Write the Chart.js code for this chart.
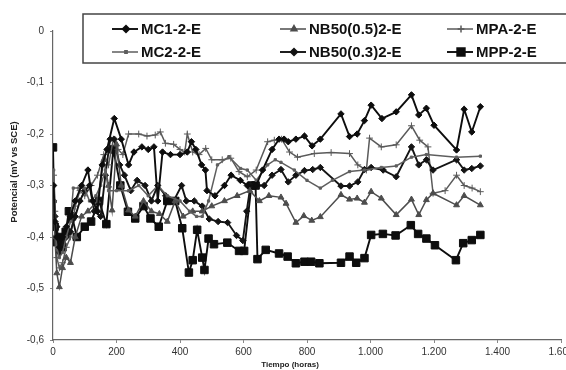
<!DOCTYPE html>
<html>
<head>
<meta charset="utf-8">
<script src="https://cdn.jsdelivr.net/npm/chart.js@4.4.1/dist/chart.umd.min.js"></script>
<style>
  html, body { margin: 0; padding: 0; overflow: hidden; background: #fff; }
  #wrap { width: 600px; height: 370px; }
</style>
</head>
<body>
<div id="wrap"><canvas id="myChart" width="600" height="370"></canvas></div>
<script>
// series labels, in legend order (column by column)
const seriesNames = ['MC1-2-E', 'MC2-2-E', 'NB50(0.5)2-E', 'NB50(0.3)2-E', 'MPA-2-E', 'MPP-2-E'];

// axis ticks
const hourTicks = [0, 200, 400, 600, 800, 1000, 1200, 1400, 1600];
const potentialTicks = [0, -0.1, -0.2, -0.3, -0.4, -0.5, -0.6];

// time (horas) and potential (mV vs SCE)
const mc1Hours = [2,6,12,20,30,42,55,70,90,110,125,140,155,170,193,215,238,255,280,300,318,330,345,370,400,423,436,450,468,480,485,510,540,561,590,612,640,660,690,712,728,741,765,792,816,842,907,934,958,981,1002,1036,1081,1129,1152,1176,1200,1271,1295,1319,1346];
const mc1Values = [-0.30,-0.37,-0.40,-0.42,-0.40,-0.38,-0.36,-0.33,-0.30,-0.27,-0.33,-0.35,-0.26,-0.23,-0.17,-0.21,-0.26,-0.235,-0.225,-0.23,-0.225,-0.33,-0.235,-0.24,-0.24,-0.235,-0.215,-0.23,-0.26,-0.27,-0.31,-0.32,-0.30,-0.28,-0.29,-0.30,-0.30,-0.27,-0.23,-0.21,-0.21,-0.215,-0.21,-0.204,-0.223,-0.21,-0.161,-0.205,-0.20,-0.174,-0.144,-0.17,-0.157,-0.124,-0.163,-0.15,-0.183,-0.231,-0.152,-0.196,-0.147];

const mc2Hours = [2,6,12,20,30,42,55,64,80,99,115,135,150,165,175,200,238,270,300,330,360,400,430,452,470,490,518,554,591,612,640,676,700,718,760,800,842,880,934,981,1034,1081,1129,1176,1271,1346];
const mc2Values = [-0.27,-0.33,-0.42,-0.44,-0.43,-0.40,-0.37,-0.305,-0.305,-0.305,-0.33,-0.32,-0.30,-0.27,-0.31,-0.31,-0.31,-0.30,-0.32,-0.30,-0.32,-0.33,-0.35,-0.36,-0.36,-0.33,-0.26,-0.244,-0.267,-0.27,-0.29,-0.26,-0.25,-0.255,-0.27,-0.29,-0.305,-0.29,-0.273,-0.27,-0.265,-0.262,-0.245,-0.24,-0.245,-0.243];

const nb05Hours = [2,6,12,20,30,42,55,70,90,110,140,160,175,186,200,215,238,259,285,310,335,360,385,410,440,470,500,540,580,620,650,680,718,734,765,790,815,842,907,934,958,981,1002,1034,1081,1129,1152,1176,1197,1271,1295,1346];
const nb05Values = [-0.33,-0.40,-0.47,-0.497,-0.46,-0.44,-0.45,-0.40,-0.36,-0.35,-0.33,-0.25,-0.30,-0.348,-0.22,-0.30,-0.348,-0.36,-0.33,-0.35,-0.355,-0.37,-0.33,-0.36,-0.35,-0.35,-0.34,-0.33,-0.32,-0.31,-0.33,-0.32,-0.323,-0.335,-0.372,-0.359,-0.368,-0.361,-0.318,-0.327,-0.325,-0.333,-0.312,-0.325,-0.357,-0.327,-0.357,-0.328,-0.315,-0.338,-0.32,-0.338];

const nb03Hours = [2,6,12,20,30,42,55,70,85,100,115,130,150,165,180,193,210,225,245,265,290,310,330,355,380,405,420,445,470,492,520,550,578,598,610,622,645,665,690,718,741,765,792,818,842,907,934,960,981,1002,1040,1081,1129,1152,1176,1197,1271,1295,1319,1346];
const nb03Values = [-0.33,-0.36,-0.38,-0.43,-0.41,-0.40,-0.39,-0.36,-0.33,-0.31,-0.30,-0.35,-0.36,-0.28,-0.21,-0.21,-0.26,-0.28,-0.31,-0.29,-0.30,-0.33,-0.30,-0.32,-0.33,-0.30,-0.33,-0.33,-0.34,-0.365,-0.37,-0.372,-0.397,-0.407,-0.35,-0.30,-0.30,-0.30,-0.28,-0.269,-0.293,-0.28,-0.271,-0.269,-0.265,-0.301,-0.301,-0.293,-0.269,-0.265,-0.27,-0.283,-0.225,-0.26,-0.25,-0.27,-0.25,-0.27,-0.267,-0.262];

const mpaHours = [2,6,12,20,30,42,55,70,85,100,120,140,160,175,190,205,220,238,270,296,322,338,354,380,400,415,423,440,460,481,500,533,560,586,612,640,676,697,720,745,770,823,876,934,960,987,997,1034,1081,1129,1155,1181,1197,1235,1271,1295,1320,1346];
const mpaValues = [-0.28,-0.35,-0.44,-0.46,-0.45,-0.42,-0.40,-0.34,-0.31,-0.32,-0.30,-0.28,-0.24,-0.26,-0.21,-0.23,-0.24,-0.20,-0.20,-0.204,-0.202,-0.196,-0.218,-0.22,-0.23,-0.235,-0.20,-0.235,-0.24,-0.228,-0.25,-0.25,-0.247,-0.273,-0.283,-0.27,-0.215,-0.212,-0.21,-0.235,-0.245,-0.238,-0.236,-0.238,-0.26,-0.27,-0.208,-0.225,-0.221,-0.184,-0.212,-0.225,-0.315,-0.31,-0.28,-0.30,-0.305,-0.312];

const mppHours = [0,5,12,20,30,40,50,60,75,100,120,145,168,190,212,236,259,285,307,333,360,385,407,428,440,454,470,477,490,507,549,586,602,625,638,644,670,712,739,765,792,813,839,907,934,955,981,1002,1039,1079,1127,1150,1176,1203,1269,1292,1319,1346];
const mppValues = [-0.226,-0.38,-0.41,-0.40,-0.42,-0.39,-0.35,-0.36,-0.40,-0.38,-0.37,-0.33,-0.375,-0.23,-0.30,-0.351,-0.364,-0.34,-0.364,-0.38,-0.33,-0.33,-0.383,-0.469,-0.445,-0.386,-0.44,-0.464,-0.403,-0.414,-0.411,-0.427,-0.427,-0.30,-0.30,-0.443,-0.425,-0.432,-0.438,-0.451,-0.448,-0.448,-0.451,-0.45,-0.438,-0.45,-0.441,-0.396,-0.394,-0.397,-0.377,-0.394,-0.403,-0.416,-0.445,-0.412,-0.406,-0.396];

function pts(hours, values) {
  return hours.map((h, i) => ({ x: h, y: values[i] }));
}

// look of each series: colour, marker, size
function series(label, hours, values, color, style, radius, width) {
  return {
    label,
    data: pts(hours, values),
    borderColor: color,
    backgroundColor: color,
    borderWidth: width,
    pointStyle: style,
    pointRadius: radius,
    pointBorderWidth: 1,
    pointBorderColor: color,
    pointBackgroundColor: color,
    tension: 0
  };
}

const data = {
  datasets: [
    series(seriesNames[0], mc1Hours, mc1Values, '#0d0d0d', 'rectRot', 3.2, 1.9),
    series(seriesNames[1], mc2Hours, mc2Values, '#5e5e5e', 'rect', 1.6, 1.5),
    series(seriesNames[2], nb05Hours, nb05Values, '#4d4d4d', 'triangle', 3.4, 1.5),
    series(seriesNames[3], nb03Hours, nb03Values, '#141414', 'rectRot', 3.2, 1.9),
    series(seriesNames[4], mpaHours, mpaValues, '#5a5a5a', 'cross', 3.4, 1.5),
    series(seriesNames[5], mppHours, mppValues, '#0d0d0d', 'rect', 5.3, 1.9)
  ]
};

// legend box + axis titles, drawn the way the figure has them
const boxLegend = {
  id: 'boxLegend',
  afterDraw(chart) {
    const ctx = chart.ctx;
    ctx.save();
    ctx.strokeStyle = '#444';
    ctx.lineWidth = 1.5;
    ctx.strokeRect(83, 14, 540, 49);

    const colLine = [112, 280, 447];
    const rowY = [29, 52];
    ctx.font = 'bold 15px "Liberation Sans", Arial, sans-serif';
    ctx.textBaseline = 'middle';
    ctx.textAlign = 'left';
    chart.data.datasets.forEach((ds, i) => {
      const x0 = colLine[Math.floor(i / 2)];
      const y = rowY[i % 2];
      ctx.strokeStyle = ds.borderColor;
      ctx.fillStyle = ds.borderColor;
      ctx.lineWidth = ds.borderWidth;
      ctx.beginPath();
      ctx.moveTo(x0, y);
      ctx.lineTo(x0 + 26, y);
      ctx.stroke();
      Chart.helpers.drawPoint(ctx, {
        pointStyle: ds.pointStyle,
        radius: ds.pointRadius,
        rotation: 0,
        borderWidth: 1
      }, x0 + 14, y);
      ctx.fillStyle = '#111';
      ctx.fillText(ds.label, x0 + 29, y + 1);
    });

    ctx.fillStyle = '#222';
    ctx.font = 'bold 8px "Liberation Sans", Arial, sans-serif';
    ctx.textAlign = 'center';
    ctx.fillText('Tiempo (horas)', 290, 365);

    ctx.translate(14, 172);
    ctx.rotate(-Math.PI / 2);
    ctx.font = 'bold 9.5px "Liberation Sans", Arial, sans-serif';
    ctx.fillText('Potencial (mV vs SCE)', 0, 0);
    ctx.restore();
  }
};

const tickFont = { family: '"Liberation Sans", Arial, sans-serif', size: 10 };

const config = {
  type: 'line',
  data,
  options: {
    responsive: false,
    animation: false,
    layout: { padding: { left: 0, right: 39, top: 31, bottom: 0 } },
    plugins: {
      legend: { display: false },
      tooltip: { enabled: false }
    },
    scales: {
      x: {
        type: 'linear',
        min: hourTicks[0],
        max: hourTicks[hourTicks.length - 1],
        afterBuildTicks: (scale) => { scale.ticks = hourTicks.map(v => ({ value: v })); },
        afterFit: (scale) => { scale.height = 30; },
        border: { color: '#666', width: 1.2 },
        grid: { drawOnChartArea: false, tickLength: 3, color: '#888' },
        ticks: {
          font: tickFont,
          color: '#333',
          padding: 3,
          maxRotation: 0,
          autoSkip: false,
          callback: (v) => v >= 1000 ? Math.floor(v / 1000) + '.' + String(v % 1000).padStart(3, '0') : String(v)
        }
      },
      y: {
        min: -0.6,
        max: 0,
        afterBuildTicks: (scale) => { scale.ticks = potentialTicks.map(v => ({ value: v })); },
        afterFit: (scale) => { scale.width = 53; },
        border: { color: '#666', width: 1.2 },
        grid: { drawOnChartArea: false, tickLength: 3, color: '#888' },
        ticks: {
          font: tickFont,
          color: '#333',
          padding: 6,
          autoSkip: false,
          callback: (v) => v === 0 ? '0' : v.toFixed(1).replace('.', ',')
        }
      }
    }
  },
  plugins: [boxLegend]
};

const myChart = new Chart(
  document.getElementById('myChart'),
  config
);
</script>
</body>
</html>
